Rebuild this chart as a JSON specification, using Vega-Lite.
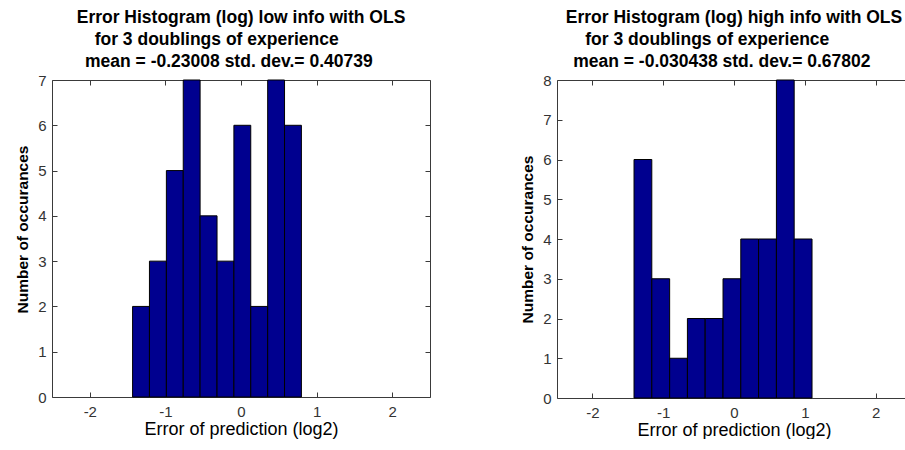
{
  "$schema": "https://vega.github.io/schema/vega-lite/v6.json",
  "background": "white",
  "padding": {"left": 15, "top": 8, "right": 0, "bottom": 0},
  "bounds": "flush",
  "spacing": 127,
  "datasets": {
    "low": [
      {"x0": -1.434, "x1": -1.211, "count": 2},
      {"x0": -1.211, "x1": -0.987, "count": 3},
      {"x0": -0.987, "x1": -0.764, "count": 5},
      {"x0": -0.764, "x1": -0.541, "count": 7},
      {"x0": -0.541, "x1": -0.317, "count": 4},
      {"x0": -0.317, "x1": -0.094, "count": 3},
      {"x0": -0.094, "x1": 0.129, "count": 6},
      {"x0": 0.129, "x1": 0.353, "count": 2},
      {"x0": 0.353, "x1": 0.576, "count": 7},
      {"x0": 0.576, "x1": 0.799, "count": 6}
    ],
    "high": [
      {"x0": -1.412, "x1": -1.161, "count": 6},
      {"x0": -1.161, "x1": -0.909, "count": 3},
      {"x0": -0.909, "x1": -0.658, "count": 1},
      {"x0": -0.658, "x1": -0.407, "count": 2},
      {"x0": -0.407, "x1": -0.155, "count": 2},
      {"x0": -0.155, "x1": 0.096, "count": 3},
      {"x0": 0.096, "x1": 0.347, "count": 4},
      {"x0": 0.347, "x1": 0.599, "count": 4},
      {"x0": 0.599, "x1": 0.85, "count": 8},
      {"x0": 0.85, "x1": 1.102, "count": 4}
    ]
  },
  "config": {
    "view": {"stroke": null},
    "title": {"font": "Liberation Sans", "fontSize": 17.5, "fontWeight": "bold", "color": "#000", "lineHeight": 22, "anchor": "middle", "offset": 3},
    "axis": {
      "grid": false,
      "domainColor": "#3a3a3a",
      "tickColor": "#3a3a3a",
      "tickSize": -5,
      "labelFont": "Liberation Sans",
      "labelFontSize": 15,
      "labelColor": "#333",
      "titleFont": "Liberation Sans",
      "titleColor": "#000"
    }
  },
  "hconcat": [
    {
      "width": 378,
      "height": 317,
      "title": {"text": ["Error Histogram (log) low info with OLS", "for 3 doublings of experience\u00a0\u00a0\u00a0\u00a0\u00a0\u00a0\u00a0\u00a0\u00a0\u00a0\u200b", "mean = -0.23008 std. dev.= 0.40739\u00a0\u00a0\u00a0\u00a0\u00a0\u200b"]},
      "data": {"name": "low"},
      "layer": [
        {
          "mark": {"type": "rect", "fill": "#00008F", "stroke": "#000", "strokeWidth": 1},
          "encoding": {
            "x": {"field": "x0", "type": "quantitative", "scale": {"domain": [-2.5, 2.5], "nice": false, "zero": false},
                  "axis": {"orient": "bottom", "values": [-2, -1, 0, 1, 2], "labelExpr": "'' + datum.value", "labelPadding": 24, "labelBaseline": "alphabetic",
                           "title": "Error of prediction (log2)", "titleFontSize": 18, "titleFontWeight": "normal", "titleBaseline": "alphabetic", "titleY": 37}},
            "x2": {"field": "x1"},
            "y": {"field": "count", "type": "quantitative", "scale": {"domain": [0, 7], "nice": false},
                  "axis": {"orient": "left", "values": [0, 1, 2, 3, 4, 5, 6, 7], "labelPadding": 11,
                           "title": "Number of occurances", "titleFontSize": 15.5, "titleFontWeight": "bold", "titleBaseline": "middle", "titleX": -30, "titleY": 149}},
            "y2": {"datum": 0}
          }
        },
        {
          "mark": {"type": "rect", "opacity": 0},
          "encoding": {
            "x": {"field": "x0", "type": "quantitative", "axis": {"orient": "top", "values": [-2, -1, 0, 1, 2], "labels": false, "title": null}},
            "x2": {"field": "x1"},
            "y": {"field": "count", "type": "quantitative", "axis": {"orient": "right", "values": [0, 1, 2, 3, 4, 5, 6, 7], "labels": false, "title": null}},
            "y2": {"datum": 0}
          }
        }
      ],
      "resolve": {"axis": {"x": "independent", "y": "independent"}}
    },
    {
      "width": 354,
      "height": 318,
      "title": {"text": ["Error Histogram (log) high info with OLS", "for 3 doublings of experience\u00a0\u00a0\u00a0\u00a0\u00a0\u00a0\u00a0\u00a0\u00a0\u00a0\u00a0\u200b", "mean = -0.030438 std. dev.= 0.67802\u00a0\u00a0\u00a0\u00a0\u00a0\u200b"]},
      "data": {"name": "high"},
      "layer": [
        {
          "mark": {"type": "rect", "fill": "#00008F", "stroke": "#000", "strokeWidth": 1},
          "encoding": {
            "x": {"field": "x0", "type": "quantitative", "scale": {"domain": [-2.5, 2.5], "nice": false, "zero": false},
                  "axis": {"orient": "bottom", "values": [-2, -1, 0, 1, 2], "labelExpr": "'' + datum.value", "labelPadding": 24, "labelBaseline": "alphabetic",
                           "title": "Error of prediction (log2)", "titleFontSize": 18, "titleFontWeight": "normal", "titleBaseline": "alphabetic", "titleY": 37}},
            "x2": {"field": "x1"},
            "y": {"field": "count", "type": "quantitative", "scale": {"domain": [0, 8], "nice": false},
                  "axis": {"orient": "left", "values": [0, 1, 2, 3, 4, 5, 6, 7, 8], "labelPadding": 11,
                           "title": "Number of occurances", "titleFontSize": 15.5, "titleFontWeight": "bold", "titleBaseline": "middle", "titleX": -30, "titleY": 159}},
            "y2": {"datum": 0}
          }
        },
        {
          "mark": {"type": "rect", "opacity": 0},
          "encoding": {
            "x": {"field": "x0", "type": "quantitative", "axis": {"orient": "top", "values": [-2, -1, 0, 1, 2], "labels": false, "title": null}},
            "x2": {"field": "x1"},
            "y": {"field": "count", "type": "quantitative", "axis": {"orient": "right", "values": [0, 1, 2, 3, 4, 5, 6, 7, 8], "labels": false, "title": null}},
            "y2": {"datum": 0}
          }
        }
      ],
      "resolve": {"axis": {"x": "independent", "y": "independent"}}
    }
  ]
}
